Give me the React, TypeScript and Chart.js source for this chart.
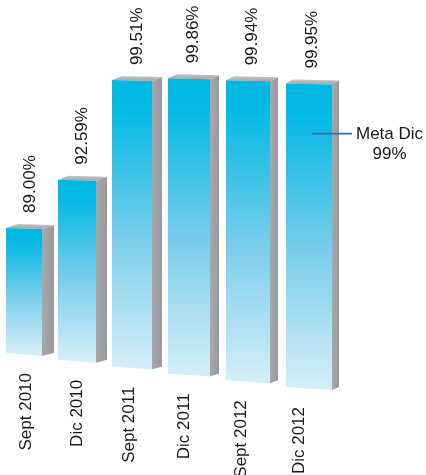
import React, { useEffect, useRef } from "react";
import { Chart, registerables } from "chart.js";

Chart.register(...registerables);

const categories = ["Sept 2010", "Dic 2010", "Sept 2011", "Dic 2011", "Sept 2012", "Dic 2012"];
const values = [89.0, 92.59, 99.51, 99.86, 99.94, 99.95];
const valueLabels = ["89.00%", "92.59%", "99.51%", "99.86%", "99.94%", "99.95%"];
const goalLabels = ["Meta Dic", "99%"];
const yMin = 80.5;
const yMax = 100;

const FONT = '17px "Liberation Sans", Arial, sans-serif';

const bars3d = {
  id: "bars3d",
  afterDatasetsDraw(chart: any) {
    const ctx = chart.ctx as CanvasRenderingContext2D;
    const meta = chart.getDatasetMeta(0);
    const area = chart.chartArea;
    const n = meta.data.length;
    ctx.save();
    let last: any = null;
    meta.data.forEach((el: any, i: number) => {
      const p = el.getProps(["x", "y", "base"], true);
      const u = (p.x - area.left) / (area.right - area.left);
      const cx = p.x - 25 * u * (1 - u);
      const w = 36 + 2 * i;
      const sw = 12 - i;
      const L = cx - w / 2;
      const R = cx + w / 2;
      const BL = p.base + 6.8 * i;
      const BR = BL + 3;
      const h = (p.base - p.y) * (1 + 0.012 * i);
      const TL = BL - h;
      const TR = TL + 1;

      // side face
      const sg = ctx.createLinearGradient(R, 0, R + sw, 0);
      sg.addColorStop(0, "#a7a9ac");
      sg.addColorStop(1, "#97999c");
      ctx.fillStyle = sg;
      ctx.beginPath();
      ctx.moveTo(R, TR);
      ctx.lineTo(R + sw, TR - 4);
      ctx.lineTo(R + sw, BR - 3);
      ctx.lineTo(R, BR);
      ctx.closePath();
      ctx.fill();

      // top face
      const tg = ctx.createLinearGradient(0, TL - 4, 0, TL);
      tg.addColorStop(0, "#c4c6c8");
      tg.addColorStop(1, "#a9abae");
      ctx.fillStyle = tg;
      ctx.beginPath();
      ctx.moveTo(L, TL);
      ctx.lineTo(L + sw, TL - 4);
      ctx.lineTo(R + sw, TR - 4);
      ctx.lineTo(R, TR);
      ctx.closePath();
      ctx.fill();

      // front face
      const fg = ctx.createLinearGradient(0, TL, 0, BL);
      fg.addColorStop(0, "#00b8e2");
      fg.addColorStop(0.1, "#03b9e3");
      fg.addColorStop(0.55, "#79cdeb");
      fg.addColorStop(1, "#d4eef8");
      ctx.fillStyle = fg;
      ctx.beginPath();
      ctx.moveTo(L, TL);
      ctx.lineTo(R, TR);
      ctx.lineTo(R, BR);
      ctx.lineTo(L, BL);
      ctx.closePath();
      ctx.fill();

      ctx.fillStyle = "#1a1a1a";
      ctx.font = FONT;

      // value label (rotated, reads bottom to top)
      ctx.save();
      ctx.translate(cx + sw / 2, TL - 15);
      ctx.rotate(-Math.PI / 2);
      ctx.textAlign = "left";
      ctx.textBaseline = "middle";
      ctx.fillText(valueLabels[i], 0, 0);
      ctx.restore();

      // category label
      ctx.save();
      ctx.translate(cx * 0.96 + 3, BL + 20);
      ctx.rotate(-Math.PI / 2);
      ctx.textAlign = "right";
      ctx.textBaseline = "middle";
      ctx.fillText(categories[i], 0, 0);
      ctx.restore();

      if (i === n - 1) last = { cx, R, sw, TL, BL };
    });

    if (last) {
      const gy = last.TL + 0.165 * (last.BL - last.TL);
      const x0 = last.cx + 3;
      const x1 = last.R + last.sw + 13;
      ctx.strokeStyle = "#2f6fb8";
      ctx.lineWidth = 1.6;
      ctx.beginPath();
      ctx.moveTo(x0, gy);
      ctx.lineTo(x1, gy);
      ctx.stroke();
      ctx.fillStyle = "#1a1a1a";
      ctx.font = FONT;
      ctx.textBaseline = "alphabetic";
      ctx.textAlign = "left";
      const tx = x1 + 4;
      ctx.fillText(goalLabels[0], tx, gy + 5);
      const tw = ctx.measureText(goalLabels[0]).width;
      ctx.textAlign = "center";
      ctx.fillText(goalLabels[1], tx + tw / 2, gy + 25);
    }
    ctx.restore();
  },
};

export default function App() {
  const ref = useRef<HTMLCanvasElement | null>(null);
  useEffect(() => {
    document.body.style.margin = "0";
    const canvas = ref.current;
    if (!canvas) return;
    const chart = new Chart(canvas, {
      type: "bar",
      data: {
        labels: categories,
        datasets: [
          {
            data: values,
            backgroundColor: "rgba(0,0,0,0)",
            borderWidth: 0,
            base: yMin,
          } as any,
        ],
      },
      options: {
        animation: false,
        responsive: false,
        devicePixelRatio: 1,
        events: [],
        layout: { padding: { left: 24, right: 117, top: 66, bottom: 122 } },
        plugins: { legend: { display: false }, tooltip: { enabled: false } },
        scales: {
          x: { type: "category", offset: false, display: false },
          y: { type: "linear", min: yMin, max: yMax, display: false },
        },
      },
      plugins: [bars3d],
    });
    return () => chart.destroy();
  }, []);
  return (
    <div style={{ width: 426, height: 475, background: "#fff" }}>
      <canvas ref={ref} width={426} height={475} style={{ display: "block" }} />
    </div>
  );
}
